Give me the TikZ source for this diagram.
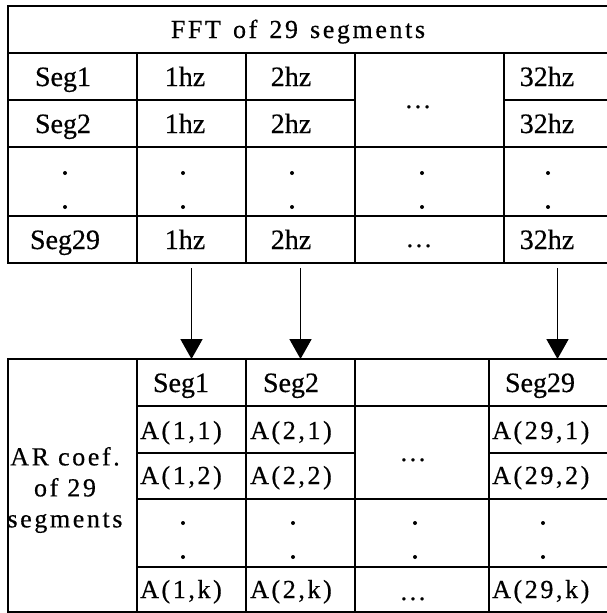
\documentclass[tikz,border=0pt]{standalone}
\usepackage{fontspec}
\setmainfont[FakeBold=0.5]{Liberation Serif}
\newfontfamily\normfont[FakeBold=0.5]{Liberation Serif}
\newfontfamily\widefont[LetterSpace=10,FakeBold=0.5]{Liberation Serif}
\usetikzlibrary{arrows.meta}
\tikzset{
  cellbox/.style={draw=black, line width=1.6pt, rectangle, inner sep=0pt, outer sep=0pt},
  txt/.style={anchor=base, inner sep=0pt, font=\normfont\fontsize{28}{31}\selectfont},
  wtxt/.style={anchor=base, inner sep=0pt, font=\widefont\fontsize{26}{31}\selectfont},
  ltxt/.style={wtxt, anchor=base west},
  arr/.style={line width=1.8pt, -{Triangle[width=22pt,length=20pt]}, shorten <=5pt},
  dotmark/.style={fill=black}
}
\newcommand\cbox[5]{\node[cellbox, minimum width={(#4)-(#2)}, minimum height={(#5)-(#3)}] (#1) at ({((#2)+(#4))/2},{((#3)+(#5))/2}) {};}
\begin{document}
\begin{tikzpicture}[x=1pt,y=-1pt]
\useasboundingbox (0,0) rectangle (607,613);
\fill[white] (0,0) rectangle (607,613);
% ---------- top table ----------
\cbox{title}{8}{6}{609}{53}
\cbox{a1}{8}{53}{137}{100}
\cbox{a2}{137}{53}{246}{100}
\cbox{a3}{246}{53}{355}{100}
\cbox{a4}{355}{53}{504}{147}
\cbox{a5}{504}{53}{609}{100}
\cbox{b1}{8}{100}{137}{147}
\cbox{b2}{137}{100}{246}{147}
\cbox{b3}{246}{100}{355}{147}
\cbox{b5}{504}{100}{609}{147}
\cbox{c1}{8}{147}{137}{216}
\cbox{c2}{137}{147}{246}{216}
\cbox{c3}{246}{147}{355}{216}
\cbox{c4}{355}{147}{504}{216}
\cbox{c5}{504}{147}{609}{216}
\cbox{d1}{8}{216}{137}{263}
\cbox{d2}{137}{216}{246}{263}
\cbox{d3}{246}{216}{355}{263}
\cbox{d4}{355}{216}{504}{263}
\cbox{d5}{504}{216}{609}{263}
% texts top
\node[wtxt] (ttitle) at (298,38) {FFT\hspace{3pt} of\hspace{3pt} 29\hspace{3pt} segments};
\node[txt] (ta1) at (63,86) {Seg1};
\node[txt] (ta2) at (185,86) {1hz};
\node[txt] (ta3) at (291,86) {2hz};
\node[txt] (ta5) at (547,86) {32hz};
\node[txt] (tb1) at (63,133) {Seg2};
\node[txt] (tb2) at (185,133) {1hz};
\node[txt] (tb3) at (291,133) {2hz};
\node[txt] (tb5) at (547,133) {32hz};
\node[wtxt] (ta4) at (418,108) {...};
\node[txt] (td1) at (65,249) {Seg29};
\node[txt] (td2) at (185,249) {1hz};
\node[txt] (td3) at (291,249) {2hz};
\node[wtxt] (td4) at (419,247) {...};
\node[txt] (td5) at (547,249) {32hz};
\foreach \xx in {65,183,292,422,548}{
  \fill[dotmark] (\xx,173) circle (2);
  \fill[dotmark] (\xx,207) circle (2);
}
% ---------- bottom table ----------
\cbox{ar}{8}{359}{137}{612}
\cbox{h2}{137}{359}{246}{406}
\cbox{h3}{246}{359}{355}{406}
\cbox{h4}{355}{359}{489}{406}
\cbox{h5}{489}{359}{609}{406}
\cbox{p2}{137}{406}{246}{453}
\cbox{p3}{246}{406}{355}{453}
\cbox{p4}{355}{406}{489}{499}
\cbox{p5}{489}{406}{609}{453}
\cbox{q2}{137}{453}{246}{499}
\cbox{q3}{246}{453}{355}{499}
\cbox{q5}{489}{453}{609}{499}
\cbox{r2}{137}{499}{246}{567}
\cbox{r3}{246}{499}{355}{567}
\cbox{r4}{355}{499}{489}{567}
\cbox{r5}{489}{499}{609}{567}
\cbox{k2}{137}{567}{246}{612}
\cbox{k3}{246}{567}{355}{612}
\cbox{k4}{355}{567}{489}{612}
\cbox{k5}{489}{567}{609}{612}
% texts bottom
\node[inner sep=0pt, align=center, font=\widefont\fontsize{26}{31}\selectfont] (tar) at (65,490) {AR coef.\\of 29\\segments};
\node[txt] (th2) at (181,392) {Seg1};
\node[txt] (th3) at (291,392) {Seg2};
\node[txt] (th5) at (540,392) {Seg29};
\node[ltxt] (tp2) at (140,439) {A(1,1)};
\node[ltxt] (tp3) at (250,439) {A(2,1)};
\node[ltxt] (tp5) at (492,439) {A(29,1)};
\node[ltxt] (tq2) at (140,484) {A(1,2)};
\node[ltxt] (tq3) at (250,484) {A(2,2)};
\node[ltxt] (tq5) at (492,484) {A(29,2)};
\node[wtxt] (tp4) at (413,461) {...};
\node[ltxt] (tk2) at (140,598) {A(1,k)};
\node[ltxt] (tk3) at (250,598) {A(2,k)};
\node[wtxt] (tk4) at (413,600) {...};
\node[ltxt] (tk5) at (492,598) {A(29,k)};
\foreach \xx in {183,293,415,543}{
  \fill[dotmark] (\xx,523) circle (2);
  \fill[dotmark] (\xx,557) circle (2);
}
% ---------- arrows ----------
\draw[arr] (d2.south) -- (h2.north);
\draw[arr] (d3.south) -- (h3.north);
\draw[arr] ([xshift=1pt]d5.south) -- ([xshift=1pt]d5.south |- h5.north);
\end{tikzpicture}
\end{document}
